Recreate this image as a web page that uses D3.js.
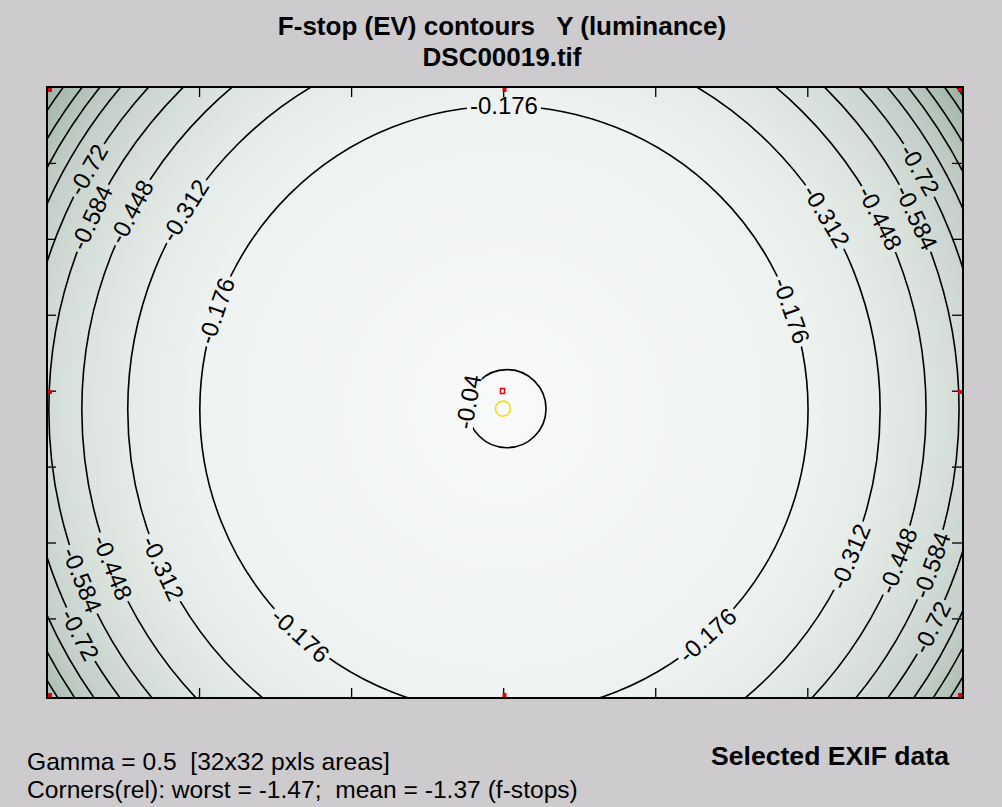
<!DOCTYPE html>
<html><head><meta charset="utf-8">
<script src="https://cdn.jsdelivr.net/npm/d3@7"></script>
<style>
html,body{margin:0;padding:0;background:#cdcbce;}
svg{display:block;}
text{font-family:"Liberation Sans",Arial,Helvetica,sans-serif;fill:#000;}
</style></head><body>
<svg id="chart" width="1002" height="807"></svg>
<script>
// ---------------- data ----------------
const imageSize = [6024, 4024];                 // image pixels (x, y)
const lensCenter = [3005, 2125];                // centre of the falloff, image pixels
const contourLevels = [-0.04, -0.176, -0.312, -0.448, -0.584, -0.72, -0.856, -0.992, -1.128, -1.264, -1.4];
const contourRadii  = [257, 2000, 2474, 2776, 2993, 3158, 3296, 3401, 3493, 3592, 3658]; // image px
const labelledLevels = [-0.04, -0.176, -0.312, -0.448, -0.584, -0.72];
const xTicks = [1000, 2000, 3000, 4000, 5000];
const yTicks = [500, 1000, 1500, 2000, 2500, 3000, 3500];
const cornerWorst = -1.47;
const cornerMean = -1.37;
const titleLines = ["F-stop (EV) contours   Y (luminance)", "DSC00019.tif"];
const noteLines = ["Gamma = 0.5  [32x32 pxls areas]",
                   "Corners(rel): worst = " + cornerWorst + ";  mean = " + cornerMean + " (f-stops)"];
const exifHeading = "Selected EXIF data";

// ---------------- layout ----------------
const labelAngles = {           // polar angle (deg, screen) of each label on its contour
  "-0.04": [-170],
  "-0.176": [-90, -161, -19, 132, 48],
  "-0.312": [-148, -31, 155, 23],
  "-0.448": [-152, -27, 158, 21],
  "-0.584": [-155, -25, 158, 20],
  "-0.72": [-150, -30, 152, 27]
};
const plot = {left: 47, right: 963, top: 87, bottom: 698};

const svg = d3.select("#chart");
const x = d3.scaleLinear().domain([0, imageSize[0]]).range([plot.left, plot.right]);
const y = d3.scaleLinear().domain([0, imageSize[1]]).range([plot.top, plot.bottom]);
const rx = r => x(r) - x(0), ry = r => y(r) - y(0);

const cx = x(lensCenter[0]), cy = y(lensCenter[1]);
const cornerR = d3.max([[0,0],[imageSize[0],0],[0,imageSize[1]],[imageSize[0],imageSize[1]]],
  c => Math.hypot(c[0]-lensCenter[0], c[1]-lensCenter[1]));

const shade = d3.scaleLinear().domain([0, cornerWorst]).range(["#f9fbfa", "#9aaea3"]).clamp(true);

const defs = svg.append("defs");
const grad = defs.append("radialGradient").attr("id", "fall")
  .attr("gradientUnits", "userSpaceOnUse")
  .attr("cx", cx).attr("cy", cy).attr("r", rx(cornerR));
const stopR = [0].concat(contourRadii, [cornerR]);
const stopV = [0].concat(contourLevels, [cornerWorst]);
stopR.forEach((r, i) => grad.append("stop").attr("offset", r / cornerR).attr("stop-color", shade(stopV[i])));

defs.append("clipPath").attr("id", "plotClip").append("rect")
  .attr("x", x(0)).attr("y", y(0)).attr("width", x(imageSize[0]) - x(0)).attr("height", y(imageSize[1]) - y(0));
const mask = defs.append("mask").attr("id", "labelMask").attr("maskUnits", "userSpaceOnUse")
  .attr("x", 0).attr("y", 0).attr("width", 1002).attr("height", 807);
mask.append("rect").attr("width", 1002).attr("height", 807).attr("fill", "#fff");

// background field
svg.append("rect")
  .attr("x", x(0)).attr("y", y(0)).attr("width", x(imageSize[0]) - x(0)).attr("height", y(imageSize[1]) - y(0))
  .attr("fill", "url(#fall)");

// contour lines
svg.append("g").attr("clip-path", "url(#plotClip)").append("g").attr("mask", "url(#labelMask)")
  .selectAll("ellipse").data(contourRadii).join("ellipse")
  .attr("cx", (d, i) => i === 0 ? cx + 3 : cx).attr("cy", (d, i) => i === 0 ? cy - 1 : cy)
  .attr("rx", d => rx(d)).attr("ry", d => ry(d))
  .attr("fill", "none").attr("stroke", "#000").attr("stroke-width", 1.6);

// labels
const labelData = [];
labelledLevels.forEach(lv => {
  const k = contourLevels.indexOf(lv);
  const r = contourRadii[k];
  (labelAngles[String(lv)] || []).forEach(a => {
    const t = a * Math.PI / 180;
    let rot = a + 90;
    while (rot > 90) rot -= 180;
    while (rot <= -90) rot += 180;
    labelData.push({text: String(lv), px: x(lensCenter[0] + r * Math.cos(t)) + (k === 0 ? 3 : 0),
                    py: y(lensCenter[1] + r * Math.sin(t)) - (k === 0 ? 1 : 0), rot});
  });
});
const labels = svg.append("g").selectAll("text").data(labelData).join("text")
  .attr("transform", d => `translate(${d.px},${d.py}) rotate(${d.rot})`)
  .attr("text-anchor", "middle").attr("dy", "0.35em")
  .style("font-size", "24px")
  .text(d => d.text);
labels.each(function(d) {
  const w = this.getComputedTextLength() + 6;
  mask.append("rect")
    .attr("transform", `translate(${d.px},${d.py}) rotate(${d.rot})`)
    .attr("x", -w / 2).attr("y", -9).attr("width", w).attr("height", 18).attr("fill", "#000");
});

// ticks (inward)
const tickStyle = g => { g.select(".domain").remove(); g.selectAll("line").attr("stroke", "#000").attr("stroke-width", 1.3); };
svg.append("g").attr("transform", `translate(0,${y(0)})`)
  .call(d3.axisTop(x).tickValues(xTicks).tickSize(-10).tickFormat("")).call(tickStyle);
svg.append("g").attr("transform", `translate(0,${y(imageSize[1])})`)
  .call(d3.axisBottom(x).tickValues(xTicks).tickSize(-10).tickFormat("")).call(tickStyle);
svg.append("g").attr("transform", `translate(${x(0)},0)`)
  .call(d3.axisLeft(y).tickValues(yTicks).tickSize(-9).tickFormat("")).call(tickStyle);
svg.append("g").attr("transform", `translate(${x(imageSize[0])},0)`)
  .call(d3.axisRight(y).tickValues(yTicks).tickSize(-11).tickFormat("")).call(tickStyle);

// frame
svg.append("rect")
  .attr("x", x(0)).attr("y", y(0)).attr("width", x(imageSize[0]) - x(0)).attr("height", y(imageSize[1]) - y(0))
  .attr("fill", "none").attr("stroke", "#000").attr("stroke-width", 2);

// red reference marks (corners and edge centres)
const marks = [];
[0, imageSize[0] / 2, imageSize[0]].forEach(mx => [0, imageSize[1] / 2, imageSize[1]].forEach(my => {
  if (mx === imageSize[0] / 2 && my === imageSize[1] / 2) return;
  marks.push([mx, my]);
}));
svg.append("g").selectAll("rect").data(marks).join("rect")
  .attr("x", d => { const px = x(d[0]); return d[0] === 0 ? px + 1 : d[0] === imageSize[0] ? px - 5 : px - 2.5; })
  .attr("y", d => { const py = y(d[1]); return d[1] === 0 ? py + 1 : d[1] === imageSize[1] ? py - 5 : py - 2.5; })
  .attr("width", 4).attr("height", 4).attr("fill", "#e00010");

// centre markers: image centre (red) and falloff centre (yellow)
svg.append("rect").attr("x", x(imageSize[0] / 2) - 4.5).attr("y", y(imageSize[1] / 2) - 4)
  .attr("width", 4).attr("height", 5).attr("fill", "none").attr("stroke", "#e00010").attr("stroke-width", 1.5);
svg.append("circle").attr("cx", x(lensCenter[0]) - 1).attr("cy", y(lensCenter[1]) - 1)
  .attr("r", 7.5).attr("fill", "none").attr("stroke", "#e8e020").attr("stroke-width", 1.6);

// titles
svg.append("g").selectAll("text").data(titleLines).join("text")
  .attr("x", 502).attr("y", (d, i) => 35 + i * 31)
  .attr("text-anchor", "middle")
  .style("font-size", "26px").style("font-weight", "bold").style("white-space", "pre")
  .text(d => d);

// notes
svg.append("g").selectAll("text").data(noteLines).join("text")
  .attr("x", 27).attr("y", (d, i) => 770 + i * 28)
  .style("font-size", "24.6px").style("white-space", "pre")
  .text(d => d);
svg.append("text").attr("x", 711).attr("y", 765)
  .style("font-size", "26.6px").style("font-weight", "bold")
  .text(exifHeading);
</script>
</body></html>
